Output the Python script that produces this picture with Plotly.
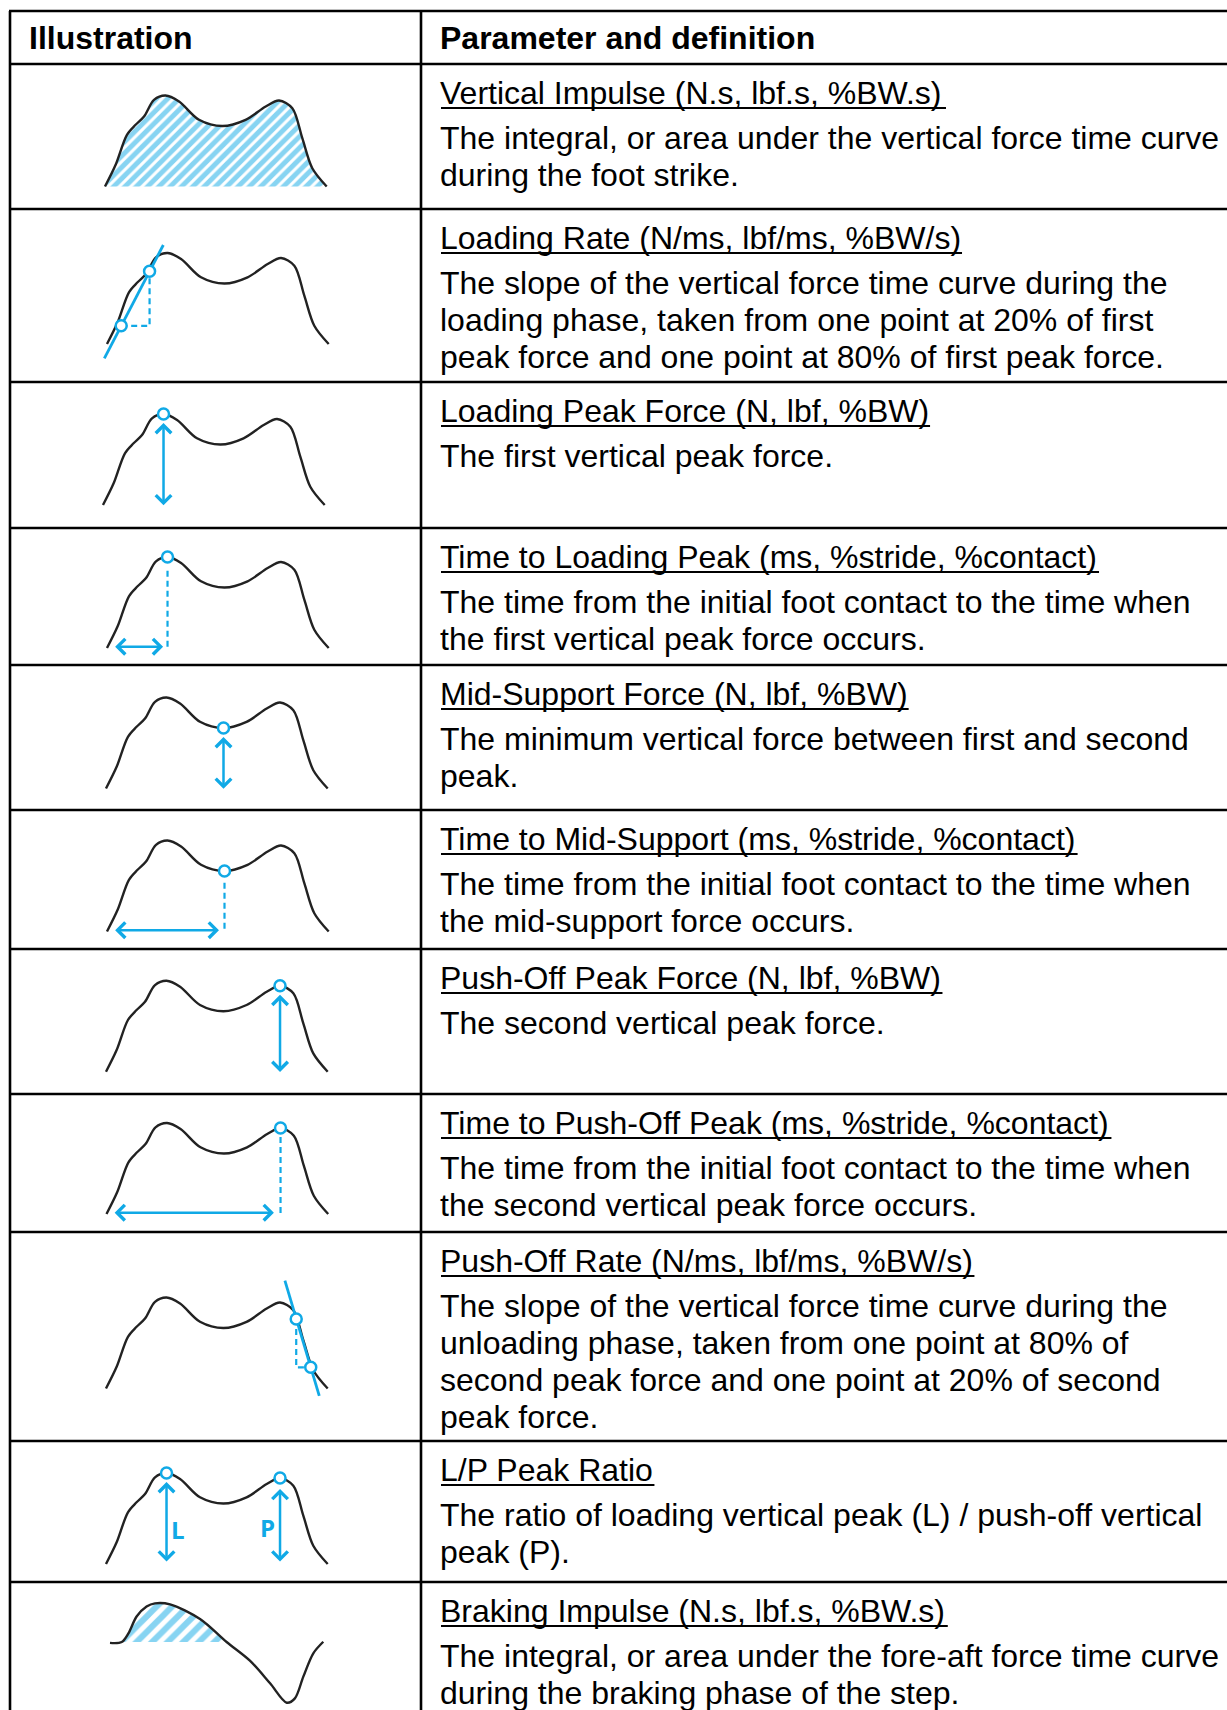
import numpy as np
import plotly.graph_objects as go

W, H = 1227, 1710
BLUE = "#10A9E6"
INK = "#222222"
FONT = "Liberation Sans, Arial, sans-serif"

# ---------------- data ----------------
# generic vertical ground-reaction-force curve (normalised time, normalised force)
GRF_T = [0.0, 0.048, 0.099, 0.138, 0.176, 0.221, 0.273, 0.334, 0.424, 0.53, 0.634,
         0.725, 0.785, 0.845, 0.89, 0.935, 1.0]
GRF_F = [0.0, 0.238, 0.568, 0.678, 0.769, 0.952, 1.0, 0.934, 0.733, 0.665, 0.733,
         0.879, 0.945, 0.861, 0.531, 0.201, 0.0]
PEAK1, VALLEY, PEAK2 = 6, 9, 12          # indices into GRF arrays

# fore-aft (braking / propulsion) curve
AP_T = [0.0, 0.053, 0.083, 0.12, 0.165, 0.203, 0.271, 0.406, 0.526, 0.631, 0.722,
        0.797, 0.834, 0.872, 0.917, 0.962]
AP_F = [-0.01, 0.0, 0.095, 0.28, 0.39, 0.425, 0.414, 0.253, 0.0, -0.205, -0.454,
        -0.667, -0.619, -0.381, -0.124, 0.003]
BRAKE_RANGE = (1, 8)                     # indices of braking phase

# loading rate (20% / 80% of first peak)
LOAD_LINE_T = [-0.012, 0.254]
LOAD_LINE_F = [-0.157, 1.088]
LOAD_PTS_T = [0.064, 0.192]
LOAD_PTS_F = [0.2, 0.8]

# push-off rate (80% / 20% of second peak)
PUSH_LINE_T = [0.807, 0.962]
PUSH_LINE_F = [1.185, -0.082]
PUSH_PTS_T = [0.858, 0.9235]
PUSH_PTS_F = [0.764, 0.233]

LP_LABELS = ["L", "P"]
LP_LABEL_T = [0.323, 0.729]
LP_LABEL_F = [0.374, 0.403]

HEADERS = ["Illustration", "Parameter and definition"]
TITLES = [
    "Vertical Impulse (N.s, lbf.s, %BW.s)",
    "Loading Rate (N/ms, lbf/ms, %BW/s)",
    "Loading Peak Force (N, lbf, %BW)",
    "Time to Loading Peak (ms, %stride, %contact)",
    "Mid-Support Force (N, lbf, %BW)",
    "Time to Mid-Support (ms, %stride, %contact)",
    "Push-Off Peak Force (N, lbf, %BW)",
    "Time to Push-Off Peak (ms, %stride, %contact)",
    "Push-Off Rate (N/ms, lbf/ms, %BW/s)",
    "L/P Peak Ratio",
    "Braking Impulse (N.s, lbf.s, %BW.s)",
]
BODIES = [
    ["The integral, or area under the vertical force time curve",
     "during the foot strike."],
    ["The slope of the vertical force time curve during the",
     "loading phase, taken from one point at 20% of first",
     "peak force and one point at 80% of first peak force."],
    ["The first vertical peak force."],
    ["The time from the initial foot contact to the time when",
     "the first vertical peak force occurs."],
    ["The minimum vertical force between first and second",
     "peak."],
    ["The time from the initial foot contact to the time when",
     "the mid-support force occurs."],
    ["The second vertical peak force."],
    ["The time from the initial foot contact to the time when",
     "the second vertical peak force occurs."],
    ["The slope of the vertical force time curve during the",
     "unloading phase, taken from one point at 80% of",
     "second peak force and one point at 20% of second",
     "peak force."],
    ["The ratio of loading vertical peak (L) / push-off vertical",
     "peak (P)."],
    ["The integral, or area under the fore-aft force time curve",
     "during the braking phase of the step."],
]

# ---------------- layout geometry (pixels) ----------------
TABLE_TOP = 11
LEFT_X, DIV_X = 10, 421
ROW_EDGES = [64, 209, 382, 528, 665, 810, 949, 1094, 1232, 1441, 1582, 1710]
CURVE_X0 = [105, 107, 103, 107, 106, 107, 106, 106.5, 106, 106, 110]
CURVE_BASE = [186.5, 344, 505, 648, 788.5, 931.5, 1071.7, 1214, 1388.5, 1564, 1642]
PX_T, PX_F = 221.7, 91.0
TEXT_X = 438          # annotation anchor (text starts ~3px to the right)
TEXT_START = 441
HEAD_X = 27

# Arial / Liberation Sans advance widths (1/1000 em) for underline lengths
ADV = {" ": 278, "(": 333, ")": 333, ",": 278, ".": 278, "/": 278, "%": 889, "-": 333,
       "B": 667, "F": 611, "I": 278, "L": 556, "M": 833, "N": 722, "O": 778, "P": 667,
       "R": 722, "S": 667, "T": 611, "V": 667, "W": 944,
       "a": 556, "b": 556, "c": 500, "d": 556, "e": 556, "f": 278, "g": 556, "h": 556,
       "i": 222, "k": 500, "l": 222, "m": 833, "n": 556, "o": 556, "p": 556, "r": 333,
       "s": 500, "t": 278, "u": 556, "v": 500, "w": 722}

fig = go.Figure()
annotations = []
shapes = []
layout_axes = {}


def ax_names(i):
    s = "" if i == 0 else str(i + 1)
    return "x" + s, "y" + s


def add_axes(i):
    xn, yn = ax_names(i)
    top, bot = ROW_EDGES[i], ROW_EDGES[i + 1]
    x0, base = CURVE_X0[i], CURVE_BASE[i]
    xkey = "xaxis" + xn[1:]
    ykey = "yaxis" + yn[1:]
    layout_axes[xkey] = dict(domain=[LEFT_X / W, DIV_X / W],
                             range=[(LEFT_X - x0) / PX_T, (DIV_X - x0) / PX_T],
                             visible=False, fixedrange=True, anchor=yn)
    layout_axes[ykey] = dict(domain=[1 - bot / H, 1 - top / H],
                             range=[(base - bot) / PX_F, (base - top) / PX_F],
                             visible=False, fixedrange=True, anchor=xn)
    return xn, yn


def curve(xn, yn, t, f):
    fig.add_trace(go.Scatter(x=t, y=f, mode="lines", xaxis=xn, yaxis=yn,
                             line=dict(color=INK, width=2.4, shape="spline", smoothing=0.9),
                             hoverinfo="skip"))


def circles(xn, yn, t, f):
    fig.add_trace(go.Scatter(x=t, y=f, mode="markers", xaxis=xn, yaxis=yn,
                             marker=dict(symbol="circle", size=11, color="white",
                                         line=dict(color=BLUE, width=2.5)),
                             hoverinfo="skip"))


def blue_line(xn, yn, t, f, dash=None, width=2.8):
    fig.add_trace(go.Scatter(x=t, y=f, mode="lines", xaxis=xn, yaxis=yn,
                             line=dict(color=BLUE, width=width, dash=dash),
                             hoverinfo="skip"))


def arrow(xn, yn, t0, f0, t1, f1):
    annotations.append(dict(xref=xn, yref=yn, axref=xn, ayref=yn,
                            x=t1, y=f1, ax=t0, ay=f0, text="", showarrow=True,
                            arrowhead=4, startarrowhead=4, arrowside="end+start",
                            arrowsize=1.2, startarrowsize=1.2, arrowwidth=2.5,
                            arrowcolor=BLUE, standoff=0, startstandoff=0))


GAP = 0.1
DASH = "6px,4px"
DASH_W = 2.2

for i in range(11):
    xn, yn = add_axes(i)
    if i == 0:      # vertical impulse - hatched area
        fig.add_trace(go.Scatter(x=GRF_T, y=GRF_F, mode="lines", xaxis=xn, yaxis=yn,
                                 fill="tozeroy", fillcolor="rgba(0,0,0,0)",
                                 fillpattern=dict(shape="/", fgcolor=BLUE, bgcolor="white",
                                                  size=8, solidity=0.62),
                                 line=dict(color=INK, width=2.4, shape="spline", smoothing=0.9),
                                 hoverinfo="skip"))
    elif i == 10:   # braking impulse
        a, b = BRAKE_RANGE
        fig.add_trace(go.Scatter(x=AP_T[a:b + 1], y=AP_F[a:b + 1], mode="lines",
                                 xaxis=xn, yaxis=yn, fill="tozeroy",
                                 fillcolor="rgba(0,0,0,0)",
                                 fillpattern=dict(shape="/", fgcolor=BLUE, bgcolor="white",
                                                  size=11, solidity=0.55),
                                 line=dict(color="rgba(0,0,0,0)", width=0, shape="spline",
                                           smoothing=0.9),
                                 hoverinfo="skip"))
        curve(xn, yn, AP_T, AP_F)
    else:
        curve(xn, yn, GRF_T, GRF_F)

    p1t, p1f = GRF_T[PEAK1], GRF_F[PEAK1]
    vt, vf = GRF_T[VALLEY], GRF_F[VALLEY]
    p2t, p2f = GRF_T[PEAK2], GRF_F[PEAK2]

    if i == 1:      # loading rate
        blue_line(xn, yn, LOAD_LINE_T, LOAD_LINE_F)
        blue_line(xn, yn, [LOAD_PTS_T[0], LOAD_PTS_T[1], LOAD_PTS_T[1]],
                  [LOAD_PTS_F[0], LOAD_PTS_F[0], LOAD_PTS_F[1]], dash=DASH, width=DASH_W)
        circles(xn, yn, LOAD_PTS_T, LOAD_PTS_F)
    elif i == 2:    # loading peak force
        arrow(xn, yn, p1t, -0.02, p1t, p1f - GAP)
        circles(xn, yn, [p1t], [p1f])
    elif i == 3:    # time to loading peak
        blue_line(xn, yn, [p1t, p1t], [p1f - GAP - 0.05, 0], dash=DASH, width=DASH_W)
        arrow(xn, yn, 0.03, 0.015, p1t - 0.02, 0.015)
        circles(xn, yn, [p1t], [p1f])
    elif i == 4:    # mid-support force
        arrow(xn, yn, vt, -0.02, vt, vf - GAP)
        circles(xn, yn, [vt], [vf])
    elif i == 5:    # time to mid-support
        blue_line(xn, yn, [vt, vt], [vf - GAP - 0.03, 0], dash=DASH, width=DASH_W)
        arrow(xn, yn, 0.03, 0.015, vt - 0.025, 0.015)
        circles(xn, yn, [vt], [vf])
    elif i == 6:    # push-off peak force
        arrow(xn, yn, p2t, -0.02, p2t, p2f - GAP)
        circles(xn, yn, [p2t], [p2f])
    elif i == 7:    # time to push-off peak
        blue_line(xn, yn, [p2t, p2t], [p2f - GAP, 0], dash=DASH, width=DASH_W)
        arrow(xn, yn, 0.03, 0.015, p2t - 0.03, 0.015)
        circles(xn, yn, [p2t], [p2f])
    elif i == 8:    # push-off rate
        blue_line(xn, yn, PUSH_LINE_T, PUSH_LINE_F)
        blue_line(xn, yn, [PUSH_PTS_T[0], PUSH_PTS_T[0], PUSH_PTS_T[1]],
                  [PUSH_PTS_F[0], PUSH_PTS_F[1], PUSH_PTS_F[1]], dash=DASH, width=DASH_W)
        circles(xn, yn, PUSH_PTS_T, PUSH_PTS_F)
    elif i == 9:    # L/P ratio
        arrow(xn, yn, p1t, 0.01, p1t, p1f - GAP)
        arrow(xn, yn, p2t, 0.01, p2t, p2f - GAP - 0.02)
        circles(xn, yn, [p1t, p2t], [p1f, p2f])
        for lab, lt, lf in zip(LP_LABELS, LP_LABEL_T, LP_LABEL_F):
            annotations.append(dict(xref=xn, yref=yn, x=lt, y=lf, text="<b>%s</b>" % lab,
                                    showarrow=False, xanchor="center", yanchor="middle",
                                    font=dict(family="Open Sans, sans-serif", size=24,
                                              color=BLUE)))

# ---------------- table lines ----------------
LINE_W = 2.6
hlines = [TABLE_TOP] + ROW_EDGES[:-1]
for y in hlines:
    shapes.append(dict(type="line", xref="paper", yref="paper",
                       x0=(LEFT_X - 1) / W, x1=1.0, y0=1 - y / H, y1=1 - y / H,
                       line=dict(color="black", width=LINE_W)))
for x in [LEFT_X, DIV_X]:
    shapes.append(dict(type="line", xref="paper", yref="paper",
                       x0=x / W, x1=x / W, y0=0, y1=1 - TABLE_TOP / H,
                       line=dict(color="black", width=LINE_W)))

# ---------------- text ----------------
FS = 32
HEAD_Y = (TABLE_TOP + ROW_EDGES[0]) / 2 + 1
for hx, txt in zip([HEAD_X, TEXT_X], HEADERS):
    annotations.append(dict(xref="paper", yref="paper", x=hx / W, y=1 - HEAD_Y / H,
                            text="<b>%s</b>" % txt, showarrow=False, xanchor="left",
                            yanchor="middle", font=dict(family=FONT, size=FS, color="black")))

TITLE_OFF, BODY_OFF, LINE_H, UL_OFF = 29, 44.6, 37.1, 44.0
for i, (title, body) in enumerate(zip(TITLES, BODIES)):
    top = ROW_EDGES[i]
    ty = top + TITLE_OFF
    annotations.append(dict(xref="paper", yref="paper", x=TEXT_X / W, y=1 - ty / H,
                            text=title, showarrow=False, xanchor="left",
                            yanchor="middle", font=dict(family=FONT, size=FS, color="black")))
    width_px = sum(ADV.get(c, 556) for c in title) * FS / 1000.0
    uy = top + UL_OFF
    shapes.append(dict(type="line", xref="paper", yref="paper",
                       x0=TEXT_START / W, x1=(TEXT_START + width_px) / W,
                       y0=1 - uy / H, y1=1 - uy / H,
                       line=dict(color="black", width=2.2)))
    for k, line in enumerate(body):
        by = ty + BODY_OFF + LINE_H * k
        annotations.append(dict(xref="paper", yref="paper", x=TEXT_X / W, y=1 - by / H,
                                text=line, showarrow=False, xanchor="left",
                                yanchor="middle",
                                font=dict(family=FONT, size=FS, color="black")))

fig.update_layout(width=W, height=H, margin=dict(l=0, r=0, t=0, b=0, pad=0),
                  paper_bgcolor="white", plot_bgcolor="white", showlegend=False,
                  annotations=annotations, shapes=shapes, **layout_axes)

fig.write_html("out.html", config={"displayModeBar": False, "staticPlot": True},
               post_script="document.body.style.margin='0';document.body.style.overflow='hidden';")
